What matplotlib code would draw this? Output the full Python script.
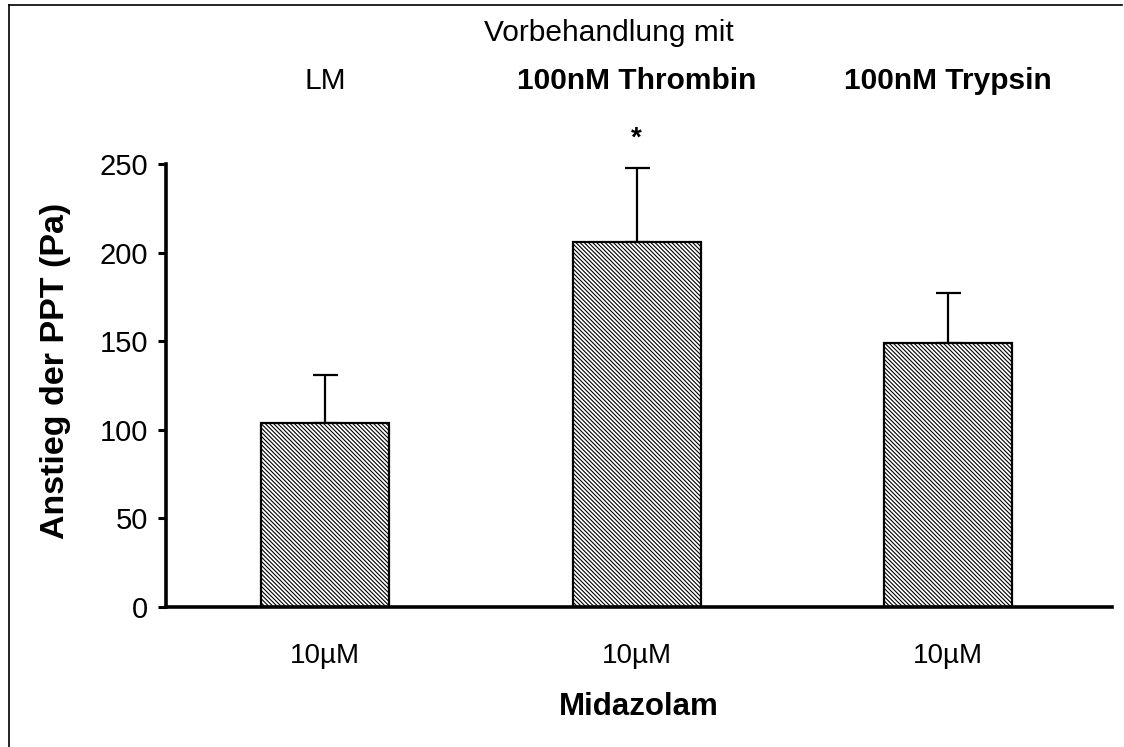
import matplotlib
matplotlib.use("Agg")
import matplotlib.pyplot as plt
from matplotlib.lines import Line2D

plt.rcParams['font.family'] = ['Liberation Sans', 'DejaVu Sans']
plt.rcParams['hatch.linewidth'] = 0.8
plt.rcParams['hatch.color'] = '#303030'

# Data
groups = ["LM", "100nM Thrombin", "100nM Trypsin"]
group_bold = [False, True, True]
dose_labels = ["10µM", "10µM", "10µM"]
means = [104, 206, 149]
sem = [27, 42, 28]
significant = [False, True, False]
yticks = [0, 50, 100, 150, 200, 250]

W, H = 1124, 747
fig = plt.figure(figsize=(W / 100, H / 100), dpi=100)
ax = fig.add_axes([166 / W, 1 - 607 / H, (1112 - 166) / W, (607 - 164) / H])

x = list(range(len(means)))
ax.bar(x, means, width=0.41, color='white', edgecolor='black', linewidth=1.6,
       hatch='\\' * 8, zorder=2)
ax.errorbar(x, means, yerr=[[0] * len(sem), sem], fmt='none', ecolor='black',
            elinewidth=1.6, capsize=9, capthick=1.6, zorder=1)

ax.set_xlim(-0.51, 2.525)
ax.set_ylim(0, 250)
ax.set_yticks(yticks)
ax.set_xticks(x)
ax.set_xticklabels(dose_labels)

for s in ['top', 'right']:
    ax.spines[s].set_visible(False)
for s in ['left', 'bottom']:
    ax.spines[s].set_linewidth(2.6)
ax.tick_params(axis='y', direction='out', length=6, width=2.2, pad=7, labelsize=21)
ax.tick_params(axis='x', length=0, pad=26, labelsize=20)

ax.set_ylabel("Anstieg der PPT (Pa)", fontsize=24.5, fontweight='bold')
ax.yaxis.set_label_coords(-0.1, 0.533)
ax.set_xlabel("Midazolam", fontsize=22.5, fontweight='bold')
ax.xaxis.set_label_coords(0.5, -0.192)

# Significance markers above error bars
for xi, m, e, sig in zip(x, means, sem, significant):
    if sig:
        ax.text(xi, m + e + 9, "*", ha='center', va='bottom', fontsize=20,
                fontweight='bold', clip_on=False)

# Pretreatment header and group names
fig.text(609 / W, 1 - 33 / H, "Vorbehandlung mit", ha='center', va='center',
         fontsize=21.5)
for xi, g, b in zip(x, groups, group_bold):
    ax.text(xi, 1 + (164 - 81) / 443, g, transform=ax.get_xaxis_transform(),
            ha='center', va='center', fontsize=21.5,
            fontweight='bold' if b else 'normal', clip_on=False)

# Frame lines along the left and top edges
fig.add_artist(Line2D([9 / W, 9 / W], [0, 1 - 5 / H], transform=fig.transFigure,
                      color='black', linewidth=1.2))
fig.add_artist(Line2D([9 / W, 1122 / W], [1 - 5 / H, 1 - 5 / H],
                      transform=fig.transFigure, color='black', linewidth=1.2))

fig.savefig("out.png", dpi=100)
